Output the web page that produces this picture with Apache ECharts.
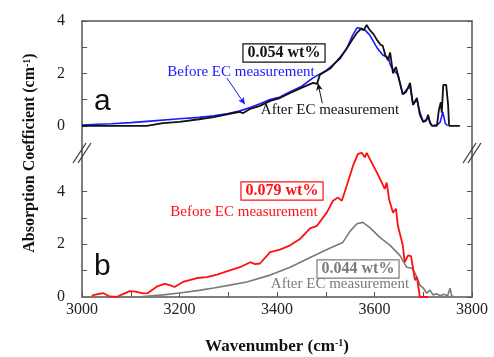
<!DOCTYPE html>
<html>
<head>
<meta charset="utf-8">
<script src="https://cdn.jsdelivr.net/npm/echarts@6/dist/echarts.min.js"></script>
<style>
  html, body { margin: 0; padding: 0; background: #fff; }
  #chart { width: 494px; height: 357px; }
</style>
</head>
<body>
<div id="chart"></div>
<script>
// panel a: 0.054 wt%
const blueWn = [3000, 3020, 3060, 3100, 3140, 3200, 3240, 3270, 3300, 3324, 3345, 3365, 3386, 3406, 3427, 3450, 3474, 3500, 3529, 3543, 3555, 3564, 3572, 3580, 3590, 3605, 3617, 3628, 3633, 3638, 3648, 3658, 3667, 3673, 3679, 3687, 3693, 3700, 3710, 3718, 3730, 3735, 3740, 3745, 3750]
const blueAbs = [0.03, 0.05, 0.08, 0.12, 0.18, 0.27, 0.32, 0.38, 0.47, 0.57, 0.7, 0.84, 1.0, 1.1, 1.3, 1.5, 1.83, 2.1, 2.55, 2.95, 3.45, 3.74, 3.72, 3.66, 3.47, 2.98, 2.7, 2.6, 2.3, 2.15, 1.95, 1.2, 1.4, 1.5, 0.8, 1.0, 0.53, 0.15, 0.3, 0, 0.05, 0.15, 0.53, 0.1, 0]
const blackWn = [3000, 3100, 3133, 3166, 3200, 3240, 3270, 3300, 3324, 3330, 3345, 3365, 3386, 3406, 3427, 3450, 3474, 3482, 3488, 3510, 3529, 3543, 3555, 3564, 3572, 3578, 3584, 3590, 3598, 3605, 3612, 3617, 3622, 3628, 3632, 3638, 3644, 3648, 3658, 3665, 3673, 3679, 3687, 3693, 3700, 3706, 3710, 3714, 3718, 3728, 3732, 3736, 3738, 3741, 3747, 3751, 3753, 3775]
const blackAbs = [0, 0, 0, 0.1, 0.15, 0.25, 0.33, 0.45, 0.53, 0.48, 0.65, 0.76, 0.95, 1.06, 1.25, 1.45, 1.64, 1.6, 1.95, 2.2, 2.6, 2.95, 3.3, 3.55, 3.7, 3.65, 3.85, 3.66, 3.5, 3.28, 3.1, 3.05, 2.7, 2.5, 2.8, 2.0, 2.25, 1.95, 1.2, 1.3, 1.64, 0.8, 1.06, 0.42, 0.15, 0.2, 0.42, 0.1, 0, 0, 0.6, 0.9, 0.5, 1.56, 1.56, 0.8, 0, 0]

// panel b: 0.079 wt% before, 0.044 wt% after
const redWn = [3020, 3030, 3043, 3057, 3071, 3085, 3098, 3110, 3125, 3135, 3154, 3170, 3180, 3190, 3207, 3236, 3256, 3277, 3297, 3324, 3345, 3355, 3365, 3386, 3406, 3427, 3447, 3468, 3482, 3502, 3515, 3525, 3533, 3543, 3556, 3566, 3574, 3580, 3584, 3590, 3605, 3615, 3621, 3625, 3630, 3638, 3644, 3648, 3658, 3662, 3669, 3675, 3679, 3683, 3687, 3693, 3710]
const redAbs = [0.05, 0.1, 0.15, 0.02, 0, 0.12, 0.22, 0.2, 0.14, 0.15, 0.4, 0.5, 0.45, 0.38, 0.57, 0.72, 0.75, 0.85, 0.97, 1.13, 1.32, 1.25, 1.27, 1.7, 1.8, 1.96, 2.2, 2.6, 2.7, 3.2, 3.65, 3.77, 3.65, 4.22, 4.98, 5.43, 5.47, 5.3, 5.47, 5.25, 4.72, 4.34, 4.1, 4.34, 3.7, 3.2, 3.35, 2.7, 1.96, 1.32, 1.58, 1.55, 1.09, 0.64, 0.75, 0, 0]
const grayWn = [3000, 3125, 3166, 3200, 3240, 3270, 3300, 3338, 3386, 3427, 3468, 3508, 3535, 3550, 3564, 3576, 3590, 3611, 3632, 3652, 3666, 3677, 3683, 3687, 3693, 3700, 3707, 3714, 3720, 3728, 3735, 3742, 3750, 3755, 3758, 3762]
const grayAbs = [0, 0.02, 0.08, 0.15, 0.25, 0.34, 0.44, 0.57, 0.83, 1.13, 1.5, 1.85, 2.07, 2.5, 2.78, 2.83, 2.64, 2.26, 1.96, 1.58, 1.13, 1.09, 0.9, 0.75, 0.45, 0.34, 0.15, 0.26, 0.08, 0.12, 0.05, 0.1, 0.05, 0.34, 0.05, 0.02]

const xTicks = [3000, 3100, 3200, 3300, 3400, 3500, 3600, 3700, 3800]
const xLabels = [3000, 3200, 3400, 3600, 3800]
const yTicks = [0, 1, 2, 3, 4]
const yLabels = [0, 2, 4]

const serif = "'Liberation Serif', 'Times New Roman', serif"
const axisColor = "#555"

const pairs = (xs, ys) => xs.map((x, i) => [x, ys[i]])

function yAx(grid, max, min, left) {
  return {
    type: "value",
    gridIndex: grid,
    position: left ? "left" : "right",
    min: min,
    max: max,
    splitLine: { show: false },
    axisLine: { show: true, lineStyle: { color: axisColor, width: 1.5 } },
    axisTick: { show: true, inside: true, length: 5, customValues: yTicks, lineStyle: { color: axisColor } },
    axisLabel: { show: left, customValues: yLabels, margin: 17, color: "#222", fontSize: 16, fontFamily: serif }
  }
}

function lineSeries(name, data, color, width, xi, yi, extra) {
  return Object.assign({
    name: name,
    type: "line",
    xAxisIndex: xi,
    yAxisIndex: yi,
    data: data,
    showSymbol: false,
    symbol: "none",
    animation: false,
    lineStyle: { color: color, width: width },
    z: 3
  }, extra || {})
}

function arrow(color, from, to) {
  return {
    silent: true,
    symbol: ["none", "arrow"],
    symbolSize: [5, 7],
    label: { show: false },
    lineStyle: { color: color, width: 1, type: "solid" },
    data: [[{ coord: from }, { coord: to }]]
  }
}

function label(text, x, y, color, opts) {
  return {
    type: "text",
    x: x,
    y: y,
    z: 10,
    style: Object.assign({
      text: text,
      fill: color,
      font: "15px " + serif,
      align: "center",
      verticalAlign: "middle"
    }, opts || {})
  }
}

function boxLabel(text, x, y, color) {
  return label(text, x, y, color, {
    font: "bold 16px " + serif,
    backgroundColor: "#fff",
    borderColor: color,
    borderWidth: 1.2,
    padding: [1, 4, 0, 4]
  })
}

function breakMark(x, y) {
  return [
    { type: "line", z: 10, shape: { x1: x, y1: y + 20, x2: x + 13, y2: y }, style: { stroke: "#333", lineWidth: 1.2 } },
    { type: "line", z: 10, shape: { x1: x + 5, y1: y + 20, x2: x + 18, y2: y }, style: { stroke: "#333", lineWidth: 1.2 } }
  ]
}

const supRich = size => ({
  t: { font: "bold " + size + "px " + serif, fill: "#111" },
  s: { font: "bold " + Math.round(size * 0.6) + "px " + serif, fill: "#111", verticalAlign: "top", padding: [0, 0, 6, 0] }
})

const chart = echarts.init(document.getElementById("chart"), null, { renderer: "canvas" })

chart.setOption({
  animation: false,
  backgroundColor: "#fff",
  grid: [
    { left: 82, right: 22, top: 21, height: 131 },
    { left: 82, right: 22, top: 152, height: 145 }
  ],
  xAxis: [
    {
      type: "value", gridIndex: 0, position: "top", min: 3000, max: 3800,
      splitLine: { show: false },
      axisLine: { show: true, onZero: false, lineStyle: { color: axisColor, width: 1.5 } },
      axisTick: { show: false },
      axisLabel: { show: false }
    },
    {
      type: "value", gridIndex: 1, position: "bottom", min: 3000, max: 3800,
      splitLine: { show: false },
      axisLine: { show: true, onZero: false, lineStyle: { color: axisColor, width: 1.5 } },
      axisTick: { show: true, inside: true, length: 5, customValues: xTicks, lineStyle: { color: axisColor } },
      axisLabel: { customValues: xLabels, formatter: v => String(v), margin: 5, color: "#222", fontSize: 16, fontFamily: serif }
    }
  ],
  yAxis: [
    yAx(0, 4, -1, true),
    yAx(0, 4, -1, false),
    yAx(1, 5.5, 0, true),
    yAx(1, 5.5, 0, false)
  ],
  series: [
    lineSeries("Before EC measurement (0.054 wt%)", pairs(blueWn, blueAbs), "#1a1aff", 1.6, 0, 0, {
      markLine: arrow("#1a1aff", [3297, 1.83], [3334, 0.82])
    }),
    lineSeries("After EC measurement (0.054 wt%)", pairs(blackWn, blackAbs), "#111", 1.8, 0, 0, {
      markLine: arrow("#111", [3493, 0.86], [3484, 1.62])
    }),
    lineSeries("After EC measurement (0.044 wt%)", pairs(grayWn, grayAbs), "#7a7a7a", 1.6, 1, 2),
    lineSeries("Before EC measurement (0.079 wt%)", pairs(redWn, redAbs), "#ff1010", 1.8, 1, 2)
  ],
  graphic: [
    label("a", 94, 117, "#111", { font: "30px 'Liberation Sans', Arial, sans-serif", align: "left", verticalAlign: "bottom" }),
    label("b", 94, 282, "#111", { font: "30px 'Liberation Sans', Arial, sans-serif", align: "left", verticalAlign: "bottom" }),
    boxLabel("0.054 wt%", 284, 53, "#111"),
    label("Before EC measurement", 241, 72, "#1a1aff"),
    label("After EC measurement", 330, 110, "#111"),
    boxLabel("0.079 wt%", 282, 191, "#ff1010"),
    label("Before EC measurement", 244, 212, "#ff1010"),
    boxLabel("0.044 wt%", 358, 269, "#7a7a7a"),
    label("After EC measurement", 340, 284, "#7a7a7a"),
    ...breakMark(73, 143),
    ...breakMark(463, 143),
    {
      type: "text", x: 277, y: 347, z: 10,
      style: { text: "{t|Wavenumber (cm}{s|-1}{t|)}", rich: supRich(17), align: "center", verticalAlign: "middle" }
    },
    {
      type: "text", x: 30, y: 153, z: 10, rotation: Math.PI / 2,
      style: { text: "{t|Absorption Coefficient (cm}{s|-1}{t|)}", rich: supRich(16), align: "center", verticalAlign: "middle" }
    }
  ]
})
</script>
</body>
</html>
